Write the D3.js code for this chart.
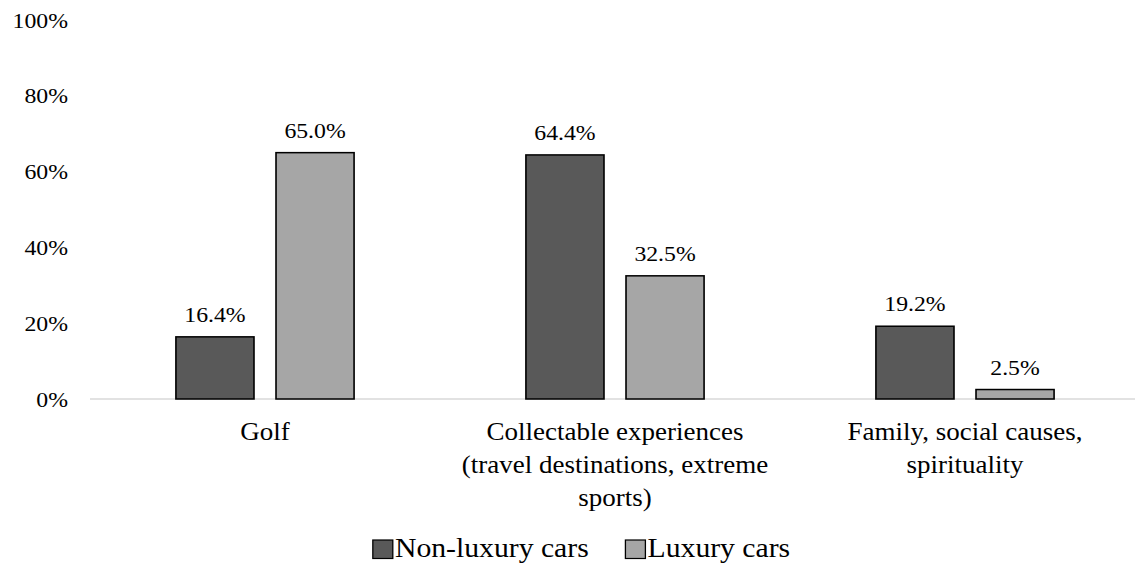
<!DOCTYPE html>
<html>
<head>
<meta charset="utf-8">
<script src="https://cdn.jsdelivr.net/npm/d3@7"></script>
<style>
  html, body { margin: 0; padding: 0; background: #fff; }
  svg { display: block; }
</style>
</head>
<body>
<div id="chart"></div>
<script>
// data
var categories = ["Golf",
  "Collectable experiences\n(travel destinations, extreme\nsports)",
  "Family, social causes,\nspirituality"];
var seriesNames = ["Non-luxury cars", "Luxury cars"];
var nonLuxury = [16.4, 64.4, 19.2];
var luxury = [65.0, 32.5, 2.5];
var yTicks = [0, 20, 40, 60, 80, 100];
var colors = ["#595959", "#a6a6a6"];

var FONT = "'Liberation Serif', 'Times New Roman', Times, serif";

// the reference text is a bit stretched sideways, so stretch x too
var W = 1135, H = 565, sx = 1.08;
var VW = W / sx;

var svg = d3.select("#chart").append("svg")
    .attr("width", W)
    .attr("height", H)
    .attr("viewBox", "0 0 " + VW + " " + H)
    .attr("preserveAspectRatio", "none");

var x0 = d3.scaleBand()
    .domain(d3.range(categories.length))
    .range([90 / sx, 1140 / sx])
    .paddingInner(0.491)
    .paddingOuter(0.2455);

var x1 = d3.scaleBand()
    .domain(seriesNames)
    .range([0, x0.bandwidth()])
    .paddingInner(0.22);

var y = d3.scaleLinear().domain([0, 100]).range([399, 20]);

// y axis labels, no line or ticks
var yAxis = d3.axisLeft(y)
    .tickValues(yTicks)
    .tickSize(0)
    .tickPadding(0)
    .tickFormat(function(d) { return d + "%"; });
var gy = svg.append("g")
    .attr("transform", "translate(" + (68 / sx) + ",0)")
    .call(yAxis);
gy.attr("font-family", FONT).attr("font-size", 22);
gy.select(".domain").remove();
gy.selectAll("text").attr("fill", "#000");

// baseline
svg.append("line")
    .attr("x1", 90 / sx).attr("x2", VW)
    .attr("y1", y(0)).attr("y2", y(0))
    .attr("stroke", "#d9d9d9")
    .attr("stroke-width", 1.6);

var rows = categories.map(function(c, i) {
  return { i: i, vals: [nonLuxury[i], luxury[i]] };
});

var groups = svg.selectAll("g.cat")
    .data(rows)
    .enter().append("g")
    .attr("class", "cat")
    .attr("transform", function(d) { return "translate(" + x0(d.i) + ",0)"; });

var bars = groups.selectAll("g.bar")
    .data(function(d) {
      return d.vals.map(function(v, k) { return { name: seriesNames[k], k: k, v: v }; });
    })
    .enter().append("g").attr("class", "bar");

bars.append("rect")
    .attr("x", function(d) { return x1(d.name); })
    .attr("y", function(d) { return y(d.v); })
    .attr("width", x1.bandwidth())
    .attr("height", function(d) { return y(0) - y(d.v); })
    .attr("fill", function(d) { return colors[d.k]; })
    .attr("stroke", "#000")
    .attr("stroke-width", 1.5);

bars.append("text")
    .attr("x", function(d) { return x1(d.name) + x1.bandwidth() / 2; })
    .attr("y", function(d) { return y(d.v) - 15; })
    .attr("text-anchor", "middle")
    .attr("font-family", FONT)
    .attr("font-size", 22)
    .attr("fill", "#000")
    .text(function(d) { return d.v.toFixed(1) + "%"; });

// category labels
svg.selectAll("text.catlabel")
    .data(categories)
    .enter().append("text")
    .attr("class", "catlabel")
    .attr("text-anchor", "middle")
    .attr("font-family", FONT)
    .attr("font-size", 25)
    .attr("fill", "#000")
    .each(function(c, i) {
      var t = d3.select(this);
      var cx = x0(i) + x0.bandwidth() / 2;
      c.split("\n").forEach(function(line, j) {
        t.append("tspan")
          .attr("x", cx)
          .attr("y", 440 + j * 33)
          .text(line);
      });
    });

// legend
var legend = svg.append("g");
var items = legend.selectAll("g")
    .data(seriesNames)
    .enter().append("g");
items.append("rect")
    .attr("width", 18.5).attr("height", 18.5)
    .attr("y", 540)
    .attr("fill", function(d, i) { return colors[i]; })
    .attr("stroke", "#000")
    .attr("stroke-width", 1.2);
items.append("text")
    .attr("x", 20.5)
    .attr("y", 557)
    .attr("font-family", FONT)
    .attr("font-size", 27.5)
    .attr("fill", "#000")
    .text(function(d) { return d; });

var pos = 0, gap = 34;
items.each(function() {
  var g = d3.select(this);
  g.attr("transform", "translate(" + pos + ",0)");
  pos += 20.5 + g.select("text").node().getComputedTextLength() + gap;
});
var total = pos - gap;
legend.attr("transform", "translate(" + (581.5 / sx - total / 2) + ",0)");
</script>
</body>
</html>
